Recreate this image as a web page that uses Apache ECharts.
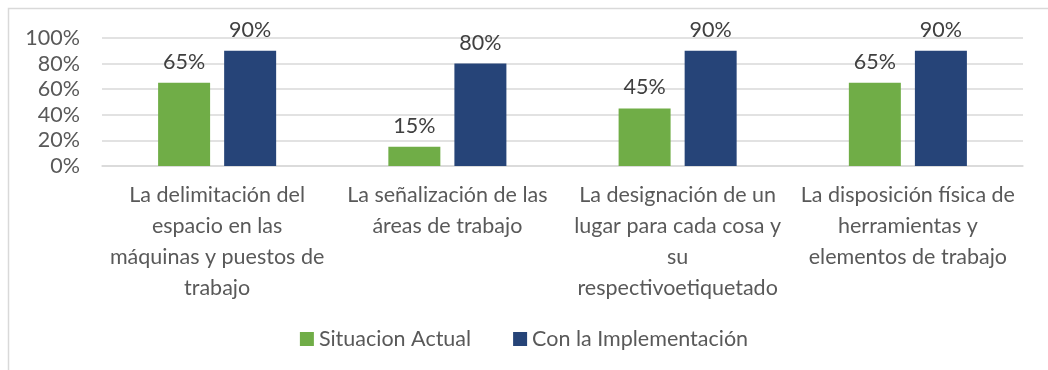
<!DOCTYPE html>
<html>
<head>
<meta charset="utf-8">
<style>
  html, body { margin: 0; padding: 0; background: #ffffff; }
  #chart { width: 1048px; height: 370px; }
</style>
<script src="https://cdn.jsdelivr.net/npm/echarts@6/dist/echarts.min.js"></script>
</head>
<body>
<div id="chart"></div>
<script>
// Categories (line breaks as they wrap under each group)
const categories = [
  'La delimitación del\nespacio en las\nmáquinas y puestos de\ntrabajo',
  'La señalización de las\náreas de trabajo',
  'La designación de un\nlugar para cada cosa y\nsu\nrespectivoetiquetado',
  'La disposición física de\nherramientas y\nelementos de trabajo'
];
const seriesNames = ['Situacion Actual', 'Con la Implementación'];
const situacionActual = [65, 15, 45, 65];
const conImplementacion = [90, 80, 90, 90];
const yTicks = [0, 20, 40, 60, 80, 100];

const FONT = 'Lato, "Open Sans", sans-serif';
const FS = 21.5;
const chart = echarts.init(document.getElementById('chart'), null, { renderer: 'canvas' });

const labelStyle = {
  show: true,
  position: 'top',
  distance: 10,
  fontFamily: FONT,
  fontSize: FS,
  color: '#404040',
  formatter: p => p.value + '%'
};

chart.setOption({
  animation: false,
  backgroundColor: '#ffffff',
  textStyle: { fontFamily: FONT },
  graphic: [{
    type: 'rect',
    shape: { x: 8.5, y: 8.5, width: 1200, height: 500 },
    style: { fill: 'none', stroke: '#d9d9d9', lineWidth: 1.5 },
    silent: true
  }],
  grid: { left: 102, right: 25, top: 38, bottom: 204, containLabel: false },
  legend: {
    bottom: 15,
    left: 'center',
    itemWidth: 14,
    itemHeight: 14,
    itemGap: 42,
    icon: 'rect',
    textStyle: { fontFamily: FONT, fontSize: FS, color: '#595959' },
    data: seriesNames
  },
  xAxis: {
    type: 'category',
    data: categories,
    axisTick: { show: false },
    axisLine: { show: true, lineStyle: { color: '#d9d9d9', width: 1.5 } },
    axisLabel: {
      interval: 0,
      margin: 14,
      fontFamily: FONT,
      fontSize: FS,
      lineHeight: 31,
      color: '#595959',
      align: 'center'
    }
  },
  yAxis: {
    type: 'value',
    min: yTicks[0],
    max: yTicks[yTicks.length - 1],
    interval: yTicks[1] - yTicks[0],
    axisLine: { show: false },
    axisTick: { show: false },
    splitLine: { lineStyle: { color: '#d9d9d9', width: 1.5 } },
    axisLabel: {
      margin: 22,
      fontFamily: FONT,
      fontSize: FS,
      color: '#595959',
      formatter: v => v + '%'
    }
  },
  series: [
    {
      name: seriesNames[0],
      type: 'bar',
      data: situacionActual,
      barWidth: 52,
      barGap: '27%',
      itemStyle: { color: '#70ad47' },
      label: labelStyle
    },
    {
      name: seriesNames[1],
      type: 'bar',
      data: conImplementacion,
      barWidth: 52,
      barGap: '27%',
      itemStyle: { color: '#264478' },
      label: labelStyle
    }
  ]
});
</script>
</body>
</html>
